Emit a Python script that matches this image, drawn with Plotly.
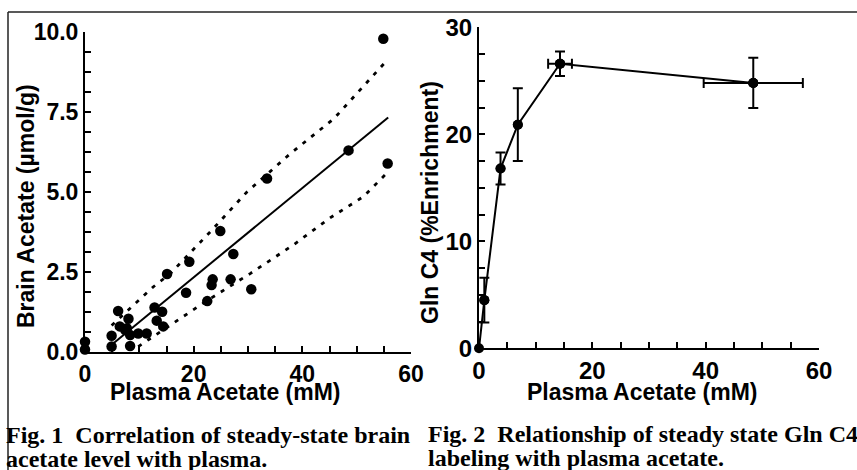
import plotly.graph_objects as go

W, H = 857, 470

# ---------- Fig. 1 data: brain vs plasma acetate ----------
plasma1 = [0, 0, 4.9, 4.9, 6.1, 6.4, 7.4, 8.0, 8.3, 8.3, 7.7, 9.8, 11.35, 12.8, 13.2,
           14.2, 14.4, 15.1, 18.6, 19.2, 22.5, 23.3, 23.5, 24.9, 26.8, 27.3, 30.6,
           33.5, 48.5, 54.9, 55.7]
brain1 = [0.32, 0.08, 0.17, 0.51, 1.28, 0.80, 0.69, 1.04, 0.53, 0.19, 0.74, 0.58, 0.58,
          1.39, 0.98, 1.26, 0.80, 2.44, 1.85, 2.82, 1.59, 2.09, 2.27, 3.78, 2.27, 3.06,
          1.96, 5.42, 6.30, 9.79, 5.89]
fit_x = [5.3, 55.8]
fit_y = [0.28, 7.33]
upper_x = [4.9, 12.6, 15.7, 23.3, 29.8, 37.8, 45.8, 55.3]
upper_y = [0.83, 2.04, 2.45, 3.80, 5.00, 6.20, 7.29, 9.06]
lower_x = [9.8, 16.3, 22.6, 30.4, 38.3, 45.1, 51.2, 55.2]
lower_y = [0.17, 0.90, 1.62, 2.45, 3.34, 4.19, 4.85, 5.53]

# ---------- Fig. 2 data: Gln C4 enrichment ----------
plasma2 = [0, 0.94, 3.8, 6.85, 14.3, 48.4]
gln_c4 = [0, 4.5, 16.8, 20.9, 26.6, 24.8]
gln_err = [0, 2.1, 1.5, 3.4, 1.15, 2.35]
plasma2_err = [0, 0, 0, 0, 2.1, 8.75]

LEFT_TICKS = [0, 20, 40, 60]
Y1_TICKS = [0, 2.5, 5.0, 7.5, 10.0]
Y1_LABELS = ["0.0", "2.5", "5.0", "7.5", "10.0"]
Y2_TICKS = [0, 10, 20, 30]

SANS = "Liberation Sans, Arial, sans-serif"
SERIF = "Liberation Serif, Times New Roman, serif"

fig = go.Figure()

# Fig 1 traces
fig.add_trace(go.Scatter(x=upper_x, y=upper_y, mode="lines", xaxis="x", yaxis="y",
                         line=dict(color="black", width=2.8, dash="4px,7px"), hoverinfo="skip"))
fig.add_trace(go.Scatter(x=lower_x, y=lower_y, mode="lines", xaxis="x", yaxis="y",
                         line=dict(color="black", width=2.8, dash="4px,7px"), hoverinfo="skip"))
fig.add_trace(go.Scatter(x=fit_x, y=fit_y, mode="lines", xaxis="x", yaxis="y",
                         line=dict(color="black", width=2)))
fig.add_trace(go.Scatter(x=plasma1, y=brain1, mode="markers", xaxis="x", yaxis="y",
                         marker=dict(color="black", size=10.5), cliponaxis=False))

# Fig 2 traces
fig.add_trace(go.Scatter(x=plasma2, y=gln_c4, mode="lines+markers", xaxis="x2", yaxis="y2",
                         line=dict(color="black", width=2),
                         marker=dict(color="black", size=10), cliponaxis=False))
idx_y = [i for i, e in enumerate(gln_err) if e > 0]
fig.add_trace(go.Scatter(x=[plasma2[i] for i in idx_y], y=[gln_c4[i] for i in idx_y],
                         mode="markers", xaxis="x2", yaxis="y2",
                         marker=dict(color="black", size=10),
                         error_y=dict(type="data", array=[gln_err[i] for i in idx_y],
                                      color="black", thickness=2, width=5),
                         cliponaxis=False))
idx_x = [i for i, e in enumerate(plasma2_err) if e > 0]
fig.add_trace(go.Scatter(x=[plasma2[i] for i in idx_x], y=[gln_c4[i] for i in idx_x],
                         mode="markers", xaxis="x2", yaxis="y2",
                         marker=dict(color="black", size=10),
                         error_x=dict(type="data", array=[plasma2_err[i] for i in idx_x],
                                      color="black", thickness=2, width=5),
                         cliponaxis=False))

def px_x(p):
    return p / W

def px_y(p):
    return 1 - p / H

axis_common = dict(showline=True, linecolor="black", linewidth=2, showgrid=False,
                   zeroline=False, ticks="inside", ticklen=6, tickwidth=2, tickcolor="black",
                   mirror=False, automargin=False)

fig.update_layout(
    template="none",
    width=W, height=H, margin=dict(l=0, r=0, t=0, b=0, pad=0, autoexpand=False),
    paper_bgcolor="white", plot_bgcolor="white", showlegend=False,
    xaxis=dict(domain=[px_x(85), px_x(411)], range=[0, 60], anchor="y",
               tickvals=LEFT_TICKS,
               tickfont=dict(family=SANS, size=23, color="black", weight="bold"),
               minor=dict(dtick=5, tick0=0, ticks="inside", ticklen=6, tickwidth=2, tickcolor="black"),
               **axis_common),
    yaxis=dict(domain=[px_y(352), px_y(32)], range=[0, 10], anchor="x",
               tickvals=Y1_TICKS, ticktext=Y1_LABELS,
               tickfont=dict(family=SANS, size=23, color="black", weight="bold"),
               minor=dict(dtick=0.625, tick0=0, ticks="inside", ticklen=6, tickwidth=2, tickcolor="black"),
               **axis_common),
    xaxis2=dict(domain=[px_x(479), px_x(819)], range=[0, 60], anchor="y2",
                tickvals=LEFT_TICKS,
                tickfont=dict(family=SANS, size=24, color="black", weight="bold"),
                minor=dict(dtick=5, tick0=0, ticks="inside", ticklen=6, tickwidth=2, tickcolor="black"),
                **axis_common),
    yaxis2=dict(domain=[px_y(348.3), px_y(27.3)], range=[0, 30], anchor="x2",
                tickvals=Y2_TICKS,
                tickfont=dict(family=SANS, size=24, color="black", weight="bold"),
                minor=dict(dtick=2.5, tick0=0, ticks="inside", ticklen=6, tickwidth=2, tickcolor="black"),
                **axis_common),
)

title_font = dict(family=SANS, size=23, color="black", weight="bold")
cap_font = dict(family=SERIF, size=24, color="black", weight="bold")
ann = [
    dict(text="Plasma Acetate (mM)", x=px_x(225), y=px_y(392), font=title_font),
    dict(text="Plasma Acetate (mM)", x=px_x(642), y=px_y(392), font=title_font),
    dict(text="Brain Acetate (µmol/g)", x=px_x(26), y=px_y(206), font=title_font, textangle=-90),
    dict(text="Gln C4 (%Enrichment)", x=px_x(430), y=px_y(202), font=title_font, textangle=-90),
]
for a in ann:
    a.update(xref="paper", yref="paper", showarrow=False, xanchor="center", yanchor="middle")
caps = [
    dict(text="Fig. 1  Correlation of steady-state brain", x=px_x(5), y=px_y(435)),
    dict(text="acetate level with plasma.", x=px_x(5), y=px_y(459)),
    dict(text="Fig. 2  Relationship of steady state Gln C4", x=px_x(427), y=px_y(434)),
    dict(text="labeling with plasma acetate.", x=px_x(427), y=px_y(458)),
]
for c in caps:
    c.update(xref="paper", yref="paper", showarrow=False, xanchor="left", yanchor="middle",
             font=cap_font, borderpad=0)
fig.update_layout(annotations=ann + caps)

# page borders from the scanned document
fig.add_shape(type="line", xref="paper", yref="paper", x0=px_x(8), x1=1, y0=px_y(12), y1=px_y(12),
              line=dict(color="#222", width=1.5))
fig.add_shape(type="line", xref="paper", yref="paper", x0=px_x(8), x1=px_x(8), y0=px_y(12), y1=0,
              line=dict(color="#222", width=1.5))

fig.write_html("out.html",
               config={"displayModeBar": False},
               post_script="document.body.style.margin='0px';document.body.style.overflow='hidden';")
